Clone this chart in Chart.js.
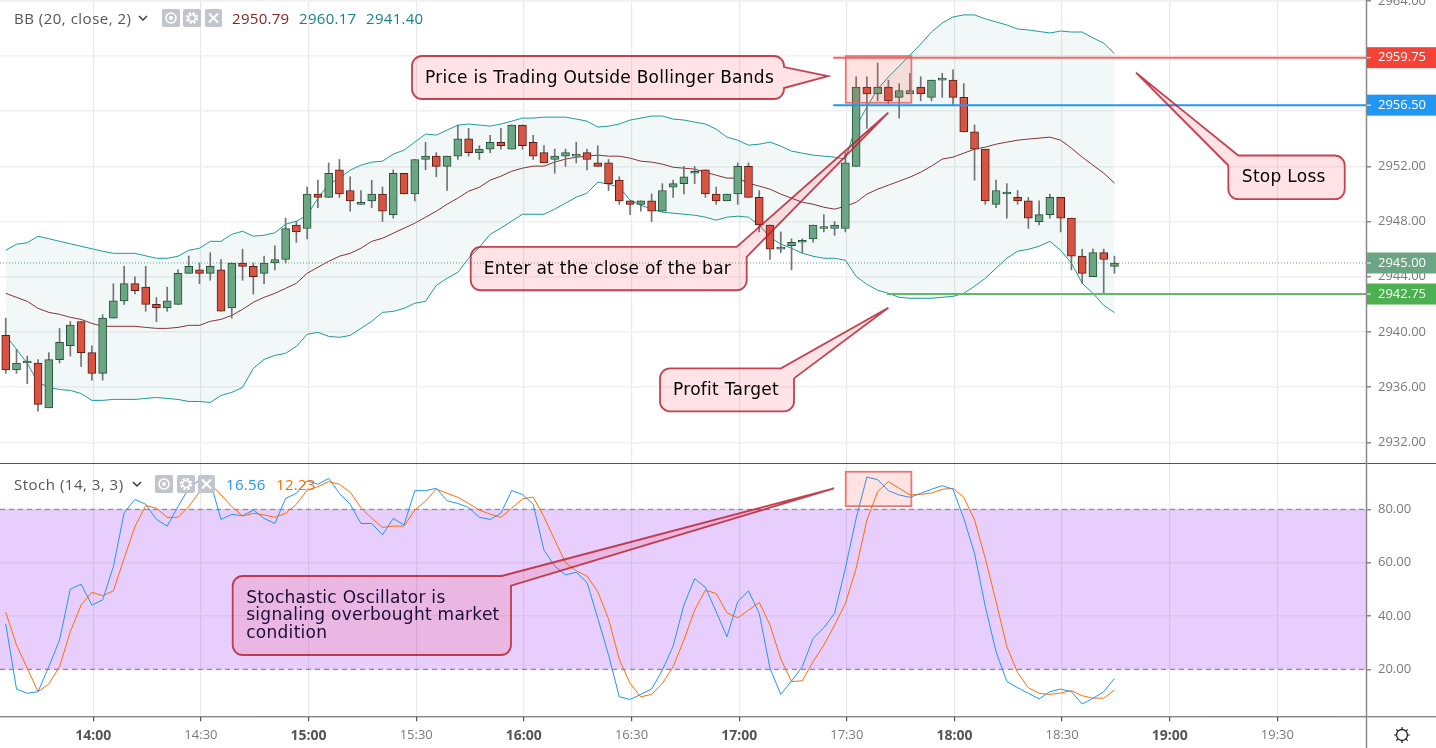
<!DOCTYPE html>
<html>
<head>
<meta charset="utf-8">
<title>BB + Stoch</title>
<script src="https://cdn.jsdelivr.net/npm/chart.js@4/dist/chart.umd.min.js"></script>
<style>
  body { margin: 0; background: #fff; overflow: hidden; }
  #page { position: relative; width: 1436px; height: 748px; }
  canvas { position: absolute; left: 0; }
  #priceChart { top: 0; }
  #stochChart { top: 464px; }
  .legend { position: absolute; left: 14px; height: 18px; font: 15px/18px "Open Sans", sans-serif; letter-spacing: 0.5px; color: #555; white-space: nowrap; }
  .legend span, .legend svg { position: absolute; top: 0; }
  .legend .val { letter-spacing: 0.3px; }
  #gear { position: absolute; left: 1393px; top: 726px; }
</style>
</head>
<body>
<div id="page">
  <canvas id="priceChart" width="1436" height="464"></canvas>
  <canvas id="stochChart" width="1436" height="284"></canvas>

  <div class="legend" style="top:9px">
    <span style="left:0">BB (20, close, 2)</span>
    <svg style="left:124px" width="10" height="18"><path d="M1 7l4 4 4-4" fill="none" stroke="#333" stroke-width="1.4"/></svg>
    <svg style="left:148px" width="18" height="18"><rect width="18" height="18" rx="2" fill="#c3c5cc"/><circle cx="9" cy="9" r="5" fill="none" stroke="#fff" stroke-width="1.6"/><circle cx="9" cy="9" r="2" fill="#fff"/></svg>
    <svg style="left:169px" width="18" height="18"><rect width="18" height="18" rx="2" fill="#c3c5cc"/><circle cx="9" cy="9" r="4.6" fill="none" stroke="#fff" stroke-width="3" stroke-dasharray="2.2 1.4"/><circle cx="9" cy="9" r="3.4" fill="none" stroke="#fff" stroke-width="1.4"/></svg>
    <svg style="left:191px" width="17" height="18"><rect width="17" height="18" rx="2" fill="#c3c5cc"/><path d="M4 4.5l9 9M13 4.5l-9 9" stroke="#fff" stroke-width="2"/></svg>
    <span class="val" style="left:218px;color:#872323">2950.79</span>
    <span class="val" style="left:285px;color:#138484">2960.17</span>
    <span class="val" style="left:352px;color:#138484">2941.40</span>
  </div>

  <div class="legend" style="top:475px">
    <span style="left:0">Stoch (14, 3, 3)</span>
    <svg style="left:118px" width="10" height="18"><path d="M1 7l4 4 4-4" fill="none" stroke="#333" stroke-width="1.4"/></svg>
    <svg style="left:141px" width="18" height="18"><rect width="18" height="18" rx="2" fill="#c3c5cc"/><circle cx="9" cy="9" r="5" fill="none" stroke="#fff" stroke-width="1.6"/><circle cx="9" cy="9" r="2" fill="#fff"/></svg>
    <svg style="left:163px" width="18" height="18"><rect width="18" height="18" rx="2" fill="#c3c5cc"/><circle cx="9" cy="9" r="4.6" fill="none" stroke="#fff" stroke-width="3" stroke-dasharray="2.2 1.4"/><circle cx="9" cy="9" r="3.4" fill="none" stroke="#fff" stroke-width="1.4"/></svg>
    <svg style="left:184px" width="17" height="18"><rect width="17" height="18" rx="2" fill="#c3c5cc"/><path d="M4 4.5l9 9M13 4.5l-9 9" stroke="#fff" stroke-width="2"/></svg>
    <span class="val" style="left:212px;color:#2196f3">16.56</span>
    <span class="val" style="left:262px;color:#ff6d00">12.23</span>
  </div>

  <svg id="gear" width="18" height="18"><circle cx="9" cy="9" r="5.5" fill="none" stroke="#222" stroke-width="1.3"/><path d="M9 1v3M9 14v3M1 9h3M14 9h3M3.3 3.3l2 2M12.7 12.7l2 2M14.7 3.3l-2 2M5.3 12.7l-2 2" stroke="#222" stroke-width="1.2"/></svg>
</div>

<script>
// 3 minute bars
const open = [
  2939.75, 2937.25, 2937.75, 2937.75, 2934.5, 2938, 2939, 2940.75, 2938.5, 2937,
  2941, 2942.25, 2943.5, 2943.25, 2942, 2941.75, 2942, 2944.25, 2944.5, 2944.25,
  2944.5, 2941.75, 2945, 2944.75, 2944.25, 2945, 2945.25, 2947.75, 2947.5, 2950,
  2949.75, 2951.75, 2950.25, 2949.25, 2949.5, 2950, 2948.5, 2951.5, 2950, 2952.5,
  2952.75, 2952, 2952.75, 2954, 2953, 2953.25, 2953.75, 2953.25, 2955, 2953.75,
  2953, 2952.5, 2952.75, 2952.75, 2953, 2952.25, 2952.25, 2951, 2949.5, 2949.25,
  2949.5, 2948.75, 2950.5, 2950.75, 2951.5, 2951.75, 2950, 2949.5, 2950, 2952,
  2949.75, 2947.75, 2946, 2946.25, 2946.5, 2946.75, 2947.5, 2947.5, 2947.5, 2952,
  2957.75, 2957.25, 2957.75, 2957, 2957.25, 2957.75, 2957, 2958.25, 2958.25, 2957,
  2954.5, 2953.25, 2949.25, 2950, 2949.75, 2949.5, 2948, 2948.5, 2949.75, 2948.25,
  2945.5, 2944, 2945.75, 2944.75
];
const close = [
  2937.25, 2937.75, 2937.75, 2934.75, 2938, 2939.25, 2940.5, 2938.5, 2937, 2941,
  2942.25, 2943.5, 2943, 2942, 2941.75, 2942.25, 2944.25, 2944.75, 2944.25, 2944.75,
  2941.5, 2945, 2944.75, 2944, 2945, 2945.25, 2947.5, 2947.25, 2950, 2949.75,
  2951.5, 2950, 2949.5, 2949.25, 2950, 2948.75, 2951.5, 2950, 2952.5, 2952.75,
  2952, 2952.75, 2954, 2953, 2953.25, 2953.75, 2953.5, 2955, 2953.5, 2952.75,
  2952.25, 2952.75, 2953, 2952.75, 2952.5, 2952, 2950.75, 2949.5, 2949.25, 2949.5,
  2948.75, 2950.25, 2950.75, 2951.25, 2951.5, 2950, 2949.5, 2950, 2952, 2949.75,
  2947.75, 2946, 2946, 2946.5, 2946.5, 2947.75, 2947.5, 2947.75, 2952.25, 2957.75,
  2957.25, 2957.75, 2956.75, 2957.5, 2957.5, 2957.25, 2958.25, 2958.25, 2957, 2954.5,
  2953.25, 2949.5, 2950.25, 2950, 2949.5, 2948.25, 2948.5, 2949.75, 2948.25, 2945.5,
  2944.25, 2945.75, 2945.25, 2945
];
const high = [
  2941, 2938.75, 2938.25, 2938, 2938.5, 2940.25, 2940.75, 2940.75, 2939, 2941.25,
  2943.5, 2944.75, 2944, 2944.75, 2942.5, 2943.25, 2944.5, 2945.5, 2945, 2945.75,
  2945.25, 2945, 2946, 2945, 2945.5, 2946.25, 2948.25, 2948, 2950.5, 2951,
  2952.25, 2952.5, 2951.25, 2950.25, 2951, 2950.5, 2951.75, 2951.5, 2952.5, 2953.75,
  2953, 2952.75, 2955, 2954.75, 2953.5, 2954.25, 2954.75, 2955, 2955, 2954.25,
  2953.5, 2953.25, 2953.25, 2953.75, 2953.25, 2953.5, 2952.5, 2951.25, 2949.5, 2949.5,
  2950, 2950.75, 2951, 2952, 2952, 2951.75, 2950.5, 2950, 2952.25, 2952.25,
  2950.25, 2947.75, 2947.25, 2946.75, 2946.75, 2947.75, 2948.5, 2948, 2953, 2958.5,
  2958.5, 2959.5, 2958.25, 2958, 2958.75, 2958.5, 2958.25, 2958.75, 2959, 2958,
  2955, 2953.25, 2951, 2950.75, 2950.25, 2949.75, 2949.5, 2950, 2949.75, 2948.25,
  2946, 2946, 2946, 2945.5
];
const low = [
  2937, 2937, 2936.25, 2934.25, 2934.5, 2937.75, 2938.25, 2937.5, 2936.5, 2936.5,
  2941, 2942, 2942.75, 2941.5, 2940.75, 2941.5, 2942, 2944.25, 2943.5, 2943.75,
  2941.5, 2941, 2943.75, 2942.75, 2943.5, 2944.5, 2945, 2946.5, 2946.75, 2949,
  2949.75, 2949.75, 2948.75, 2949.25, 2949, 2948, 2948.25, 2950, 2949.5, 2951.75,
  2951.25, 2950.25, 2952.5, 2952.75, 2952.5, 2953, 2953.25, 2953.25, 2953.25, 2952.5,
  2952.25, 2951.5, 2952, 2952.25, 2951.75, 2952, 2950.25, 2949.25, 2948.5, 2948.75,
  2948, 2948.75, 2949.75, 2950, 2950.75, 2949.75, 2949.25, 2949.5, 2949.25, 2949.75,
  2947.25, 2945.25, 2945.75, 2944.5, 2945.75, 2946.5, 2947.25, 2947, 2947.25, 2952,
  2954.75, 2956.75, 2956.5, 2955.5, 2957.25, 2956.75, 2956.75, 2957, 2956.5, 2954.5,
  2951, 2949.25, 2949, 2948.25, 2949.25, 2947.5, 2947.75, 2948.25, 2947.25, 2944.5,
  2943.5, 2944, 2942.75, 2944.25
];

const bbUpper = [
  2945.92, 2946.36, 2946.47, 2946.94, 2946.76, 2946.57, 2946.39, 2946.21, 2946.03, 2945.85,
  2945.7, 2945.7, 2945.7, 2945.52, 2945.34, 2945.34, 2945.49, 2945.92, 2946.07, 2946.57,
  2946.57, 2947.08, 2947.3, 2946.94, 2947.01, 2947.19, 2947.81, 2948.03, 2948.46, 2949.7,
  2950.71, 2951.15, 2951.73, 2952.09, 2952.31, 2952.38, 2952.89, 2953.18, 2953.76, 2954.34,
  2954.27, 2954.63, 2954.99, 2955.07, 2955, 2954.92, 2955.07, 2955.28, 2955.5, 2955.5,
  2955.57, 2955.57, 2955.57, 2955.43, 2955.28, 2954.85, 2954.92, 2955.07, 2955.36, 2955.5,
  2955.65, 2955.65, 2955.43, 2955.36, 2955.21, 2955.07, 2954.7, 2954.12, 2953.9, 2953.54,
  2953.61, 2953.76, 2953.47, 2953.11, 2952.96, 2952.82, 2952.74, 2952.67, 2952.53, 2954.92,
  2956.3, 2957.61, 2958.48, 2959.27, 2960.07, 2960.87, 2961.74, 2962.39, 2962.83, 2962.98,
  2962.98, 2962.69, 2962.47, 2962.25, 2961.96, 2961.89, 2961.78, 2961.67, 2961.81, 2961.74,
  2961.74, 2961.31, 2960.94, 2960.17
];
const bbBasis = [
  2942.8, 2942.51, 2942.22, 2941.71, 2941.42, 2941.28, 2941.06, 2940.91, 2940.62, 2940.41,
  2940.41, 2940.41, 2940.41, 2940.33, 2940.26, 2940.26, 2940.33, 2940.48, 2940.48, 2940.77,
  2940.91, 2941.2, 2941.64, 2942.15, 2942.51, 2942.8, 2943.16, 2943.53, 2944.25, 2944.69,
  2945.12, 2945.49, 2945.7, 2946.07, 2946.57, 2946.79, 2947.16, 2947.52, 2947.88, 2948.32,
  2948.75, 2949.26, 2949.7, 2950.2, 2950.49, 2951, 2951.29, 2951.65, 2951.87, 2952.02,
  2952.02, 2952.31, 2952.53, 2952.67, 2952.74, 2952.82, 2952.74, 2952.74, 2952.6, 2952.38,
  2952.31, 2952.16, 2951.94, 2951.87, 2951.8, 2951.58, 2951.36, 2951.15, 2951.15, 2950.78,
  2950.57, 2950.35, 2949.99, 2949.7, 2949.4, 2949.26, 2949.04, 2948.9, 2949.11, 2949.4,
  2949.99, 2950.35, 2950.64, 2950.93, 2951.22, 2951.58, 2952.02, 2952.53, 2952.67, 2952.96,
  2953.25, 2953.4, 2953.61, 2953.76, 2953.9, 2953.98, 2954.05, 2954.12, 2953.9, 2953.32,
  2952.67, 2952.09, 2951.51, 2950.79
];
const bbLower = [
  2939.75, 2938.74, 2937.72, 2936.34, 2935.98, 2935.83, 2935.76, 2935.54, 2935.04, 2935.04,
  2935.11, 2935.11, 2935.11, 2935.18, 2935.25, 2935.18, 2935.11, 2934.96, 2934.96, 2934.89,
  2935.4, 2935.62, 2935.98, 2937.36, 2938.01, 2938.3, 2938.45, 2938.95, 2939.83, 2939.97,
  2939.68, 2939.61, 2939.75, 2940.26, 2940.77, 2941.42, 2941.49, 2941.71, 2942.08, 2942.22,
  2943.38, 2943.89, 2944.32, 2945.34, 2946.14, 2947.08, 2947.52, 2948.03, 2948.53, 2948.53,
  2948.53, 2948.9, 2949.33, 2949.77, 2950.06, 2950.86, 2950.71, 2950.49, 2949.55, 2949.19,
  2948.9, 2948.68, 2948.61, 2948.53, 2948.46, 2948.32, 2948.1, 2948.32, 2948.39, 2948.32,
  2947.74, 2946.87, 2946.36, 2946.07, 2945.7, 2945.49, 2945.34, 2945.34, 2945.2, 2944.03,
  2943.45, 2943.02, 2942.8, 2942.51, 2942.44, 2942.44, 2942.44, 2942.51, 2942.58, 2942.8,
  2943.31, 2943.89, 2944.62, 2945.34, 2945.85, 2945.99, 2946.21, 2946.57, 2945.92, 2944.98,
  2943.53, 2942.8, 2941.93, 2941.4
];

const stochK = [
  37, 12.6, 11, 11.6, 21, 31, 50.1, 51.9, 44.1, 46,
  58.5, 78.7, 83.7, 81.9, 76.2, 73.7, 81, 87.9, 91, 90.4,
  76.2, 78.1, 77.6, 79.7, 76.6, 74.7, 84.1, 86, 90.7, 89.4,
  91.6, 86, 81.9, 74.7, 74.7, 70.4, 76.6, 74.1, 87, 87,
  87.9, 83.2, 82.2, 80.7, 77, 76.2, 78.5, 87, 85.6, 81.9,
  64.7, 58.7, 55.4, 56.4, 52.6, 39.1, 25.4, 9.7, 8.7, 10.6,
  12.6, 19.7, 28.7, 44.1, 54, 50.7, 41.6, 32.2, 45.4, 49.4,
  41, 20.4, 10.6, 15.6, 21, 31.6, 35.6, 41, 57.9, 76.6,
  92.1, 91.1, 87, 85.4, 84.5, 86, 87.5, 88.9, 87.5, 76.6,
  63.5, 43.5, 26.6, 15.4, 13.1, 11, 8.9, 11.6, 12.6, 11.6,
  7, 9.1, 11.6, 16.56
];
const stochD = [
  41.4, 29.1, 20.4, 11.6, 14.5, 21, 34.1, 44.1, 48.9, 47.6,
  49.4, 61.6, 73.5, 81.4, 80.4, 77, 77, 81, 86.6, 89.7,
  85.4, 81, 77.5, 78.5, 77.9, 77, 78.5, 81.9, 87.2, 88.5,
  90.4, 89.4, 86.4, 80.6, 76.6, 73.2, 73.7, 73.7, 79.7, 83.1,
  87.6, 86, 84.5, 82.2, 79.7, 78.2, 77, 80.4, 83.9, 84.6,
  77.2, 68.5, 60, 56.9, 55, 49.1, 38.9, 23.7, 14.7, 9.7,
  10.6, 14.7, 21, 31, 42.2, 49.7, 48.4, 41.2, 39.3, 42.2,
  45.1, 36.6, 23.9, 15.4, 15.7, 22.9, 29.1, 36.6, 44.7, 57.9,
  76, 86.6, 90.4, 87.9, 85.4, 85.6, 86.1, 87.5, 87.9, 84.5,
  76, 61.6, 45.4, 28.5, 18.8, 13.1, 11, 10.6, 11.1, 12,
  10.1, 9.2, 9.2, 12.23
];

const priceTicks = [2932, 2936, 2940, 2944, 2948, 2952, 2956, 2960, 2964];
const stochTicks = [20, 40, 60, 80];
const timeTicks = [840, 870, 900, 930, 960, 990, 1020, 1050, 1080, 1110, 1140, 1170]; // minutes since midnight

const lastPrice = 2945;
const stopPrice = 2959.75;
const entryPrice = 2956.5;
const targetPrice = 2942.75;
// the stop and entry lines sit a touch off their labelled price in the screenshot
const stopLine = 2959.88;
const entryLine = 2956.44;

// axis ranges
const minTime = 814, maxTime = 1194.7;
const minPrice = 2930.43, maxPrice = 2964.06;
const minStoch = 2, maxStoch = 97;
const firstBar = 815.6, barStep = 3;
const tradeStart = 1046.2, targetStart = 1061.2;

const barX = open.map((_, i) => firstBar + barStep * i);
const toXY = (values) => values.map((y, i) => ({ x: barX[i], y: y }));
const flat = (y, from) => [{ x: from, y: y }, { x: maxTime, y: y }];
const clock = (m) => Math.floor(m / 60) + ":" + String(m % 60).padStart(2, "0");

const UI_FONT = '"Open Sans", sans-serif';
const GRID = "#eff0f2";
const GRID_V = "#e8e9eb";
const TEXT = "#7a7a7a";

// the panes need a fixed size so both line up
function fixedY(scale) {
  scale.width = 70;
  scale.paddingTop = scale.paddingBottom = scale.paddingLeft = scale.paddingRight = 0;
}
function fixedX(height) {
  return (scale) => {
    scale.height = height;
    scale.paddingTop = scale.paddingBottom = scale.paddingLeft = scale.paddingRight = 0;
  };
}
function setTicks(values) {
  return (scale) => { scale.ticks = values.map((v) => ({ value: v })); };
}

function yAxis(min, max, values) {
  return {
    position: "right",
    min: min,
    max: max,
    afterBuildTicks: setTicks(values),
    afterFit: fixedY,
    border: { display: false },
    grid: { color: GRID, lineWidth: 1.5, tickColor: "#8a8a8a", tickLength: 5 },
    ticks: {
      autoSkip: false,
      padding: 7,
      color: TEXT,
      font: { family: UI_FONT, size: 13 },
      callback: (v) => Number(v).toFixed(2)
    }
  };
}

function xAxis(height, showLabels) {
  return {
    type: "linear",
    offset: false,
    min: minTime,
    max: maxTime,
    afterBuildTicks: setTicks(timeTicks),
    afterFit: fixedX(height),
    border: { display: false },
    grid: { offset: false, color: GRID_V, lineWidth: 1.2, drawTicks: showLabels, tickColor: "#555", tickLength: 4 },
    ticks: {
      display: showLabels,
      autoSkip: false,
      maxRotation: 0,
      padding: 6,
      color: (ctx) => (ctx.tick.value % 60 === 0 ? "#555" : "#7a7a7a"),
      font: (ctx) => {
        const hour = ctx.tick && ctx.tick.value % 60 === 0;
        return { family: UI_FONT, size: hour ? 14 : 13, weight: hour ? "bold" : "normal" };
      },
      callback: (v) => clock(v)
    }
  };
}

// pane border, axis line and time scale divider
const paneFrame = {
  id: "paneFrame",
  afterDraw(chart) {
    const { ctx, chartArea: a } = chart;
    ctx.save();
    ctx.strokeStyle = "#555";
    ctx.lineWidth = 1;
    ctx.beginPath();
    ctx.moveTo(0, a.bottom - 0.5);
    ctx.lineTo(chart.width, a.bottom - 0.5);
    ctx.stroke();
    ctx.strokeStyle = "#8a8a8a";
    ctx.lineWidth = 1.5;
    ctx.beginPath();
    ctx.moveTo(a.right + 0.5, 0);
    ctx.lineTo(a.right + 0.5, chart.height);
    ctx.stroke();
    ctx.restore();
  }
};

// coloured boxes on the price axis
const PRICE_TAGS = [
  { value: stopLine, label: stopPrice, color: "#f44336" },
  { value: entryLine, label: entryPrice, color: "#2196f3" },
  { value: lastPrice, label: lastPrice, color: "#6ba583" },
  { value: targetPrice, label: targetPrice, color: "#4caf50" }
];
const priceTagsPlugin = {
  id: "priceTags",
  afterDraw(chart) {
    const { ctx, chartArea: a, scales } = chart;
    ctx.save();
    ctx.font = "13px " + UI_FONT;
    ctx.textBaseline = "middle";
    ctx.textAlign = "left";
    PRICE_TAGS.forEach((tag) => {
      const y = scales.y.getPixelForValue(tag.value);
      ctx.fillStyle = tag.color;
      ctx.fillRect(a.right + 1, y - 10.5, 70, 21);
      ctx.fillStyle = "#fff";
      ctx.fillRect(a.right + 1, y - 0.5, 4, 1);
      ctx.fillText(tag.label.toFixed(2), a.right + 12, y);
    });
    ctx.restore();
  }
};

// callouts and rectangles from the original drawing tools
function drawCallout(chart, yKey, c) {
  const { ctx, scales } = chart;
  const x = scales.x.getPixelForValue(c.t);
  const y = scales[yKey].getPixelForValue(c.v);
  const tip = [scales.x.getPixelForValue(c.tipT), scales[yKey].getPixelForValue(c.tipV), 0];
  const w = c.w, h = c.h, r = 10;
  let pts;
  if (c.tail === "topleft") {
    pts = [[x + c.a, y, 0], [x + w, y, r], [x + w, y + h, r], [x, y + h, r], [x, y + c.b, 0], tip];
  } else if (c.tail === "right") {
    pts = [[x, y, r], [x + w, y, r], [x + w, y + c.a, 0], tip, [x + w, y + c.b, 0], [x + w, y + h, r], [x, y + h, r]];
  } else {
    pts = [[x, y, r], [x + c.a, y, 0], tip, [x + w, y + c.b, 0], [x + w, y + h, r], [x, y + h, r]];
  }
  const last = pts[pts.length - 1];
  ctx.save();
  ctx.beginPath();
  ctx.moveTo((last[0] + pts[0][0]) / 2, (last[1] + pts[0][1]) / 2);
  pts.forEach((p, i) => {
    const next = pts[(i + 1) % pts.length];
    if (p[2]) ctx.arcTo(p[0], p[1], next[0], next[1], p[2]);
    else ctx.lineTo(p[0], p[1]);
  });
  ctx.closePath();
  ctx.fillStyle = "rgba(255, 0, 30, 0.11)";
  ctx.fill();
  ctx.strokeStyle = "rgba(185, 35, 50, 0.85)";
  ctx.lineWidth = 1.8;
  ctx.stroke();
  ctx.fillStyle = c.color || "#000";
  ctx.font = '17px "DejaVu Sans", sans-serif';
  ctx.letterSpacing = "0.28px";
  ctx.textAlign = "left";
  ctx.textBaseline = "middle";
  c.lines.forEach((line, i) => {
    ctx.fillText(line, x + c.textX, y + c.textY + i * 17.5);
  });
  ctx.restore();
}

function drawBox(chart, yKey, b) {
  const { ctx, scales } = chart;
  const x1 = scales.x.getPixelForValue(b.t1), x2 = scales.x.getPixelForValue(b.t2);
  const y1 = scales[yKey].getPixelForValue(b.v1), y2 = scales[yKey].getPixelForValue(b.v2);
  ctx.save();
  ctx.fillStyle = "rgba(244, 67, 54, 0.15)";
  ctx.fillRect(x1, y1, x2 - x1, y2 - y1);
  ctx.strokeStyle = "rgba(229, 100, 100, 0.85)";
  ctx.lineWidth = 1.8;
  ctx.strokeRect(x1, y1, x2 - x1, y2 - y1);
  ctx.restore();
}

const PRICE_CALLOUTS = [
  { lines: ["Price is Trading Outside Bollinger Bands"], t: 928.82, v: 2960, w: 372, h: 43, tipT: 1044.77, tipV: 2958.55, tail: "right", a: 11, b: 32, textX: 13, textY: 22.5 },
  { lines: ["Enter at the close of the bar"], t: 945.18, v: 2946.16, w: 276, h: 43.3, tipT: 1061.57, tipV: 2955.89, tail: "topright", a: 266, b: 10, textX: 13, textY: 22.5 },
  { lines: ["Stop Loss"], t: 1156.33, v: 2952.79, w: 116.4, h: 43.7, tipT: 1130.6, tipV: 2958.79, tail: "topleft", a: 10, b: 10, textX: 13.5, textY: 22.5 },
  { lines: ["Profit Target"], t: 997.94, v: 2937.36, w: 134, h: 43, tipT: 1061.57, tipV: 2941.76, tail: "topright", a: 121, b: 10, textX: 13, textY: 22.5 }
];
const STOCH_CALLOUTS = [
  { lines: ["Stochastic Oscillator is", "signaling overbought market", "condition"], t: 878.85, v: 55, w: 278.3, h: 79, tipT: 1046.44, tipV: 87.87, tail: "topright", a: 269, b: 9.7, textX: 13.5, textY: 22.5, color: "#1c0c3a" }
];
const PRICE_BOX = { t1: 1049.7, t2: 1068, v1: 2960, v2: 2956.61 };
const STOCH_BOX = { t1: 1049.7, t2: 1068, v1: 94.1, v2: 81.2 };

const drawings = (yKey, box, callouts) => ({
  id: "drawings",
  afterDraw(chart) {
    drawBox(chart, yKey, box);
    callouts.forEach((c) => drawCallout(chart, yKey, c));
  }
});

function lineSet(data, color, order, extra) {
  return Object.assign({
    type: "line",
    data: data,
    borderColor: color,
    borderWidth: 1,
    pointRadius: 0,
    tension: 0,
    fill: false,
    order: order
  }, extra || {});
}

const baseOptions = (scales) => ({
  responsive: false,
  animation: false,
  devicePixelRatio: 1,
  layout: { padding: 0 },
  plugins: { legend: { display: false }, tooltip: { enabled: false } },
  events: [],
  scales: scales
});

new Chart(document.getElementById("priceChart"), {
  type: "bar",
  data: {
    datasets: [
      // 0: upper band, filled down to the lower band
      lineSet(toXY(bbUpper), "#1f9a98", 5, { fill: { target: 1 }, backgroundColor: "rgba(38, 140, 140, 0.06)" }),
      lineSet(toXY(bbLower), "#1f9a98", 5),
      lineSet(toXY(bbBasis), "#8b2e2e", 5),
      lineSet(flat(lastPrice, minTime), "#6ba583", 4, { borderDash: [1, 2] }),
      {
        label: "wick",
        data: open.map((_, i) => ({ x: barX[i], y: [low[i], high[i]] })),
        backgroundColor: "#737375",
        barThickness: 1,
        grouped: false,
        order: 3
      },
      {
        label: "body",
        data: open.map((o, i) => ({ x: barX[i], y: [o, close[i]] })),
        backgroundColor: open.map((o, i) => (close[i] >= o ? "#6ba583" : "#d75442")),
        borderColor: open.map((o, i) => (close[i] >= o ? "#225437" : "#5b1a13")),
        borderWidth: 1,
        borderSkipped: false,
        barThickness: 8,
        minBarLength: 2,
        grouped: false,
        order: 2
      },
      lineSet(flat(stopLine, tradeStart), "#f26a64", 1, { borderWidth: 2 }),
      lineSet(flat(entryLine, tradeStart), "#2196f3", 1, { borderWidth: 2 }),
      lineSet(flat(targetPrice, targetStart), "#66b76a", 1, { borderWidth: 2 })
    ]
  },
  options: baseOptions({
    x: xAxis(0, false),
    y: yAxis(minPrice, maxPrice, priceTicks)
  }),
  plugins: [paneFrame, priceTagsPlugin, drawings("y", PRICE_BOX, PRICE_CALLOUTS)]
});

new Chart(document.getElementById("stochChart"), {
  type: "line",
  data: {
    datasets: [
      lineSet(flat(80, minTime), "#787b86", 4, { borderDash: [5, 4], fill: { target: 1 }, backgroundColor: "rgba(140, 10, 240, 0.2)" }),
      lineSet(flat(20, minTime), "#787b86", 4, { borderDash: [5, 4] }),
      lineSet(toXY(stochD), "#ff6d00", 2),
      lineSet(toXY(stochK), "#2196f3", 1)
    ]
  },
  options: baseOptions({
    x: xAxis(30.7, true),
    y: yAxis(minStoch, maxStoch, stochTicks)
  }),
  plugins: [paneFrame, drawings("y", STOCH_BOX, STOCH_CALLOUTS)]
});
</script>
</body>
</html>
